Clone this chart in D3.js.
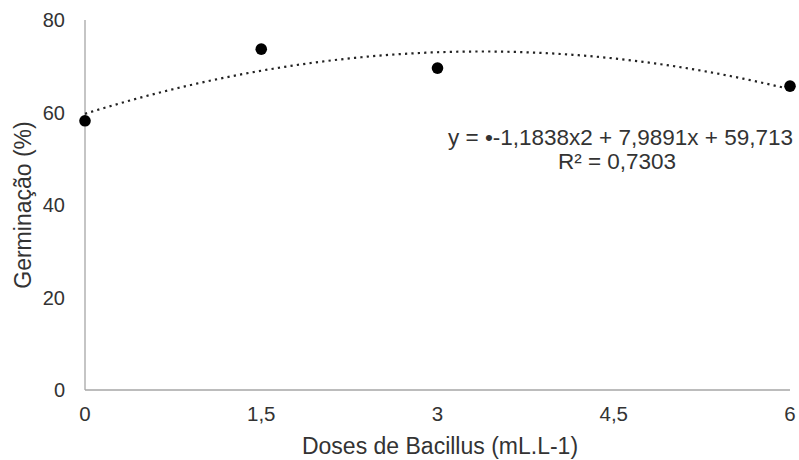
<!DOCTYPE html>
<html>
<head>
<meta charset="utf-8">
<script src="https://cdn.jsdelivr.net/npm/d3@7"></script>
<style>
  html, body { margin: 0; padding: 0; background: #fff; }
  svg { display: block; }
  text { font-family: "Liberation Sans", Arial, sans-serif; fill: #333; }
</style>
</head>
<body>
<svg id="chart" width="799" height="460"></svg>
<script>
// Data
const doses = [0, 1.5, 3, 6];
const germinacao = [58.2, 73.7, 69.6, 65.7];
const xTicks = [0, 1.5, 3, 4.5, 6];
const xTickLabels = ["0", "1,5", "3", "4,5", "6"];
const yTicks = [0, 20, 40, 60, 80];
const yTickLabels = ["0", "20", "40", "60", "80"];
// Trendline coefficients as shown in chart: c0 + c1*x + c2*x^2
const trendCoefs = [59.713, 7.9891, -1.1838];
const equationText = "y = \u2022-1,1838x2 + 7,9891x + 59,713";
const r2Text = "R\u00B2 = 0,7303";
const xTitle = "Doses de Bacillus (mL.L-1)";
const yTitle = "Germinação (%)";

const svg = d3.select("#chart");
const x = d3.scaleLinear().domain([0, 6]).range([85, 790]);
const y = d3.scaleLinear().domain([0, 80]).range([390, 20]);

// axes lines
svg.append("line").attr("x1", x(0)).attr("x2", x(0)).attr("y1", y(80)).attr("y2", y(0))
  .attr("stroke", "#a6a6a6").attr("stroke-width", 1.3);
svg.append("line").attr("x1", x(0)).attr("x2", x(6)).attr("y1", y(0)).attr("y2", y(0))
  .attr("stroke", "#a6a6a6").attr("stroke-width", 1.3);

// tick labels
svg.append("g").selectAll("text").data(xTicks).join("text")
  .attr("x", d => x(d)).attr("y", 421)
  .attr("text-anchor", "middle").attr("font-size", 20.5)
  .text((d, i) => xTickLabels[i]);
svg.append("g").selectAll("text").data(yTicks).join("text")
  .attr("x", 65).attr("y", d => y(d) + 7)
  .attr("text-anchor", "end").attr("font-size", 20)
  .text((d, i) => yTickLabels[i]);

// axis titles
svg.append("text").attr("x", 440).attr("y", 454).attr("text-anchor", "middle")
  .attr("font-size", 23).text(xTitle);
svg.append("text").attr("transform", "translate(31,205) rotate(-90)")
  .attr("text-anchor", "middle").attr("font-size", 23).text(yTitle);

// trendline
const trendX = d3.range(0, 6.0001, 0.05);
const trendFn = v => trendCoefs[0] + trendCoefs[1] * v + trendCoefs[2] * v * v;
svg.append("path")
  .datum(trendX)
  .attr("d", d3.line().x(d => x(d)).y(d => y(trendFn(d))).curve(d3.curveLinear))
  .attr("fill", "none").attr("stroke", "#222").attr("stroke-width", 2.2)
  .attr("stroke-dasharray", "2.2,4.2");

// points
svg.append("g").selectAll("circle").data(doses).join("circle")
  .attr("cx", d => x(d)).attr("cy", (d, i) => y(germinacao[i]))
  .attr("r", 5.8).attr("fill", "#000");

// equation
svg.append("text").attr("x", 793).attr("y", 145).attr("text-anchor", "end")
  .attr("font-size", 22.5).text(equationText);
svg.append("text").attr("x", 617).attr("y", 169).attr("text-anchor", "middle")
  .attr("font-size", 22.5).text(r2Text);
</script>
</body>
</html>
